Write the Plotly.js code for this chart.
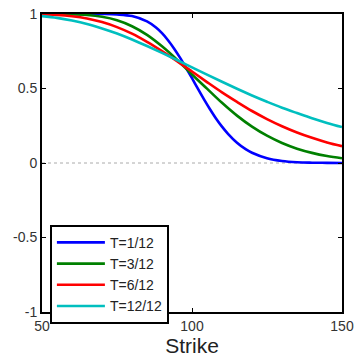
<!DOCTYPE html>
<html>
<head>
<meta charset="utf-8">
<script src="https://cdn.plot.ly/plotly-3.0.1.min.js"></script>
<style>html,body{margin:0;padding:0;background:#fff;}#chart{width:355px;height:358px;}</style>
</head>
<body>
<div id="chart"></div>
<script>
// Strike grid for the three smoother curves
var strikes = [50,55,60,65,70,75,80,85,90,95,100,105,110,115,120,125,130,135,140,145,150];
// Finer strike grid for the steep T=1/12 curve
var strikesShort = [50,55,60,65,70,75,80,85,88,90,92,94,96,98,100,102,104,106,108,110,112,115,118,120,125,130,135,140,145,150];

var deltaT1 = [1,1,1,1,0.9997,0.997,0.986,0.95,0.909,0.871,0.824,0.769,0.707,0.639,0.569,0.497,0.427,0.361,0.299,0.244,0.196,0.136,0.091,0.069,0.032,0.0135,0.005,0.002,0.001,0];
var deltaT3 = [1,0.9996,0.998,0.993,0.981,0.958,0.918,0.86,0.783,0.693,0.594,0.499,0.404,0.318,0.244,0.183,0.134,0.096,0.068,0.047,0.032];
var deltaT6 = [0.998,0.994,0.985,0.97,0.946,0.912,0.868,0.813,0.751,0.684,0.614,0.543,0.474,0.41,0.349,0.295,0.247,0.205,0.169,0.138,0.113];
var deltaT12 = [0.986,0.974,0.956,0.933,0.903,0.869,0.829,0.785,0.739,0.691,0.642,0.593,0.545,0.498,0.453,0.411,0.371,0.335,0.3,0.269,0.241];

var seriesNames = ['T=1/12','T=3/12','T=6/12','T=12/12'];
var xTicks = [50,100,150];
var yTicks = [-1,-0.5,0,0.5,1];
var yTickText = ['-1','-0.5','0','0.5','1'];

var colors = ['#0000ff','#008000','#ff0000','#00bfbf'];
var xs = [strikesShort, strikes, strikes, strikes];
var ys = [deltaT1, deltaT3, deltaT6, deltaT12];

var traces = ys.map(function(y,i){
  return {x: xs[i], y: y, type:'scatter', mode:'lines', name: seriesNames[i],
    line:{color: colors[i], width: 2.6, shape:'spline', smoothing:1}};
});

var font = {family:'"Liberation Sans", Arial, sans-serif', size:14, color:'#333'};
var layout = {
  width:355, height:358,
  margin:{l:42, r:13, t:14, b:46},
  paper_bgcolor:'#fff', plot_bgcolor:'#fff',
  font: font,
  showlegend:true,
  legend:{x:0.027, y:0.292, xanchor:'left', yanchor:'top', bgcolor:'#fff',
    bordercolor:'#000', borderwidth:1.8, font:{family:font.family, size:14, color:'#222'},
    itemwidth:48, tracegroupgap:0},
  xaxis:{range:[50,150], tickvals:xTicks, ticks:'inside', ticklen:4, tickcolor:'#000',
    showline:true, mirror:'ticks', linecolor:'#000', linewidth:2, showgrid:false, zeroline:false,
    title:{text:'Strike', font:{family:font.family, size:21, color:'#222'}, standoff:3}},
  yaxis:{range:[-1,1], tickvals:yTicks, ticktext:yTickText, ticks:'inside', ticklen:4, tickcolor:'#000',
    showline:true, mirror:'ticks', linecolor:'#000', linewidth:2, showgrid:false, zeroline:false},
  shapes:[{type:'line', xref:'paper', x0:0, x1:1, yref:'y', y0:0, y1:0,
    line:{color:'#aaa', width:1, dash:'dot'}, layer:'below'}]
};
Plotly.newPlot('chart', traces, layout, {displayModeBar:false, staticPlot:true});
</script>
</body>
</html>
